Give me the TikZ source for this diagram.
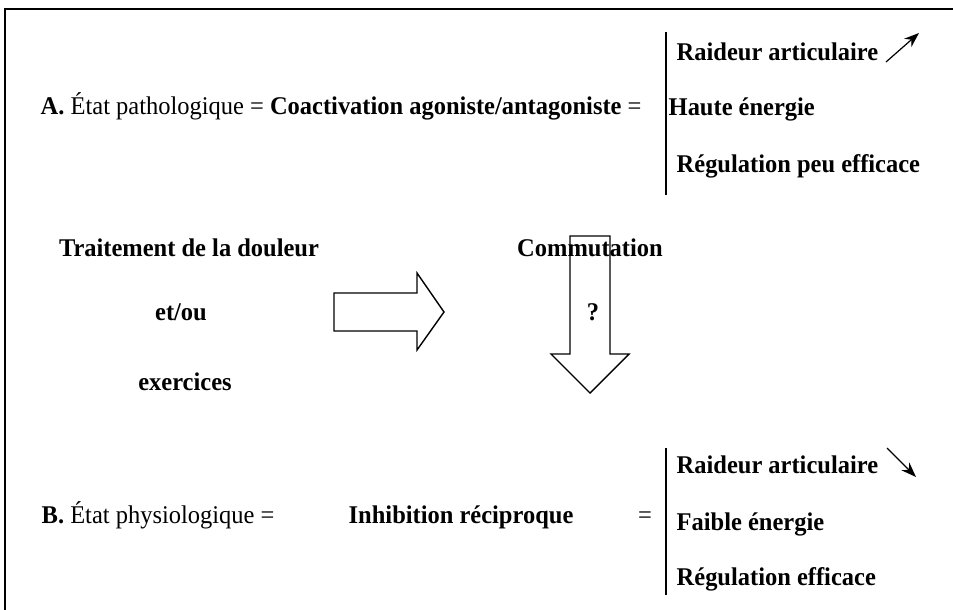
\documentclass[tikz,border=0pt]{standalone}
\usepackage{fontspec}
\setmainfont{Liberation Serif}[FakeStretch=0.96]
\usetikzlibrary{arrows.meta}

\begin{document}
\begin{tikzpicture}[x=1pt, y=-1pt, every node/.style={inner sep=0pt, anchor=base west, font=\fontsize{25.5}{30}\selectfont}, every path/.style={line width=1.4pt}, gras/.style={font=\fontsize{25.5}{30}\selectfont\bfseries}, centre/.style={anchor=base}, fleche/.style={line width=1.2pt, -{Stealth[length=15pt,width=11pt]}}]
	\useasboundingbox (0,0) rectangle (953,610);
	% cadre
	\draw[line width=2pt] (5,610) -- (5,9) -- (953,9);

	% etat A
	\node (A) at (40,114) {\textbf{A.} État pathologique = \textbf{Coactivation agoniste/antagoniste} =};
	\draw (666,32) -- (666,195);
	\node[gras] (raidA) at (676,61) {Raideur articulaire};
	\node[gras] (energA) at (668,115) {Haute énergie};
	\node[gras] (regA) at (676,172) {Régulation peu efficace};
	\coordinate (hautA) at (886,62);
	\coordinate (hautB) at (919,33);
	\draw[fleche] (hautA) -- (hautB);

	% passage
	\node[gras,centre] (trait) at (189,256) {Traitement de la douleur};
	\node[gras,centre] (etou) at (181,320) {et/ou};
	\node[gras,centre] (exer) at (185,390) {exercices};
	\draw (334,293) -- (417,293) -- (417,273) -- (444,312) -- (417,350) -- (417,331) -- (334,331) -- cycle;
	\node[gras,centre] (comm) at (590,256) {Commutation};
	\draw (570,236) -- (610,236) -- (610,354) -- (629,354) -- (590,393) -- (551,354) -- (570,354) -- cycle;
	\node[gras,centre] (quest) at (593,320) {?};

	% etat B
	\node (B) at (41,523) {\textbf{B.} État physiologique =};
	\node[gras] (inhib) at (348,523) {Inhibition réciproque};
	\node[centre] (egal) at (645,523) {=};
	\draw (666,448) -- (666,595);
	\node[gras] (raidB) at (676,473) {Raideur articulaire};
	\node[gras] (energB) at (676,530) {Faible énergie};
	\node[gras] (regB) at (676,585) {Régulation efficace};
	\coordinate (basA) at (887,448);
	\coordinate (basB) at (916,477);
	\draw[fleche] (basA) -- (basB);
\end{tikzpicture}
\end{document}
